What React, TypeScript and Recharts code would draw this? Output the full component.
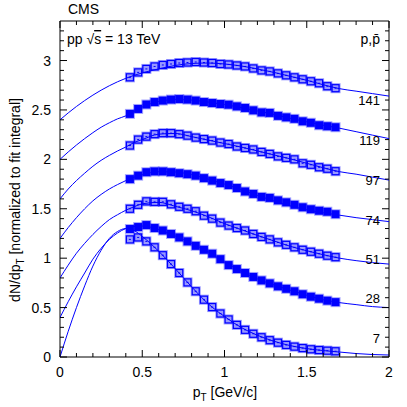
import React from "react";
import { ComposedChart, Line, Scatter, XAxis, YAxis, ReferenceArea } from "recharts";

// measured pT bin centres (GeV/c)
const PT = [
  0.425, 0.475, 0.525, 0.575, 0.625, 0.675, 0.725, 0.775, 0.825, 0.875, 0.925, 0.975, 1.025,
  1.075, 1.125, 1.175, 1.225, 1.275, 1.325, 1.375, 1.425, 1.475, 1.525, 1.575, 1.625, 1.675,
];

// pT points where the fit curves are read
const FIT_PT = [
  0, 0.05, 0.1, 0.15, 0.2, 0.25, 0.3, 0.35, 0.4, 0.45, 0.5, 0.6, 0.7, 0.8, 0.9, 1.0, 1.1, 1.2,
  1.3, 1.4, 1.5, 1.6, 1.7, 1.8, 1.9, 2.0,
];

const MULT = ["7", "28", "51", "74", "97", "119", "141"];

// data points, already shifted per multiplicity class
const DATA_7 = [
  1.19, 1.21, 1.17, 1.11, 1.03, 0.94, 0.85, 0.755, 0.665, 0.58, 0.505, 0.44, 0.38, 0.325, 0.275,
  0.235, 0.2, 0.17, 0.145, 0.122, 0.105, 0.09, 0.078, 0.07, 0.064, 0.058,
];
const DATA_28 = [
  1.295, 1.315, 1.335, 1.305, 1.28, 1.245, 1.21, 1.17, 1.125, 1.085, 1.045, 0.99, 0.93, 0.89,
  0.85, 0.81, 0.775, 0.745, 0.715, 0.69, 0.665, 0.635, 0.61, 0.59, 0.57, 0.555,
];
const DATA_51 = [
  1.5, 1.54, 1.575, 1.57, 1.57, 1.545, 1.52, 1.5, 1.475, 1.43, 1.4, 1.36, 1.33, 1.305, 1.28,
  1.245, 1.215, 1.19, 1.16, 1.135, 1.11, 1.085, 1.065, 1.045, 1.025, 1.01,
];
const DATA_74 = [
  1.8, 1.835, 1.87, 1.878, 1.878, 1.87, 1.86, 1.85, 1.835, 1.81, 1.785, 1.76, 1.74, 1.71, 1.675,
  1.65, 1.62, 1.61, 1.585, 1.565, 1.54, 1.515, 1.495, 1.48, 1.47, 1.445,
];
const DATA_97 = [
  2.14, 2.2, 2.23, 2.255, 2.265, 2.265, 2.255, 2.24, 2.22, 2.205, 2.19, 2.17, 2.155, 2.13, 2.115,
  2.1, 2.075, 2.055, 2.03, 2.015, 2.0, 1.96, 1.945, 1.92, 1.905, 1.88,
];
const DATA_119 = [
  2.46, 2.51, 2.555, 2.58, 2.595, 2.605, 2.61, 2.605, 2.595, 2.58, 2.57, 2.56, 2.553, 2.536, 2.52,
  2.496, 2.475, 2.47, 2.44, 2.425, 2.41, 2.385, 2.37, 2.345, 2.335, 2.325,
];
const DATA_141 = [
  2.83, 2.88, 2.915, 2.94, 2.955, 2.965, 2.975, 2.98, 2.985, 2.98, 2.975, 2.965, 2.96, 2.95, 2.94,
  2.92, 2.9, 2.89, 2.87, 2.85, 2.83, 2.81, 2.79, 2.77, 2.74, 2.72,
];

// fit curves
const FIT_7 = [
  0, 0.26, 0.5, 0.72, 0.92, 1.08, 1.2, 1.27, 1.3, 1.28, 1.22, 1.07, 0.895, 0.71, 0.54, 0.41, 0.3,
  0.22, 0.16, 0.115, 0.085, 0.065, 0.05, 0.035, 0.025, 0.02,
];
const FIT_28 = [
  0.4, 0.56, 0.71, 0.85, 0.99, 1.1, 1.19, 1.255, 1.3, 1.32, 1.325, 1.29, 1.225, 1.15, 1.065, 0.96,
  0.87, 0.79, 0.73, 0.675, 0.625, 0.58, 0.55, 0.53, 0.51, 0.5,
];
const FIT_51 = [
  0.8, 0.93, 1.05, 1.15, 1.24, 1.32, 1.39, 1.44, 1.485, 1.52, 1.55, 1.565, 1.525, 1.48, 1.42,
  1.35, 1.29, 1.23, 1.175, 1.12, 1.075, 1.035, 1.0, 0.975, 0.955, 0.94,
];
const FIT_74 = [
  1.2, 1.31, 1.41, 1.5, 1.58, 1.645, 1.7, 1.745, 1.785, 1.82, 1.845, 1.875, 1.872, 1.845, 1.8,
  1.75, 1.695, 1.635, 1.58, 1.53, 1.49, 1.46, 1.435, 1.41, 1.39, 1.37,
];
const FIT_97 = [
  1.6, 1.7, 1.785, 1.86, 1.93, 1.99, 2.04, 2.085, 2.125, 2.17, 2.2, 2.255, 2.262, 2.23, 2.195,
  2.16, 2.125, 2.085, 2.045, 2.005, 1.96, 1.915, 1.875, 1.85, 1.82, 1.79,
];
const FIT_119 = [
  2.0, 2.075, 2.145, 2.21, 2.27, 2.325, 2.37, 2.41, 2.44, 2.485, 2.53, 2.585, 2.605, 2.6, 2.58,
  2.555, 2.525, 2.49, 2.455, 2.415, 2.38, 2.345, 2.315, 2.28, 2.245, 2.21,
];
const FIT_141 = [
  2.4, 2.47, 2.535, 2.595, 2.65, 2.7, 2.745, 2.785, 2.82, 2.85, 2.875, 2.915, 2.95, 2.97, 2.975,
  2.965, 2.945, 2.915, 2.88, 2.84, 2.8, 2.755, 2.715, 2.69, 2.665, 2.64,
];

// where the multiplicity labels sit
const LABEL_X = 1.945;
const LABEL_Y = [0.142, 0.547, 0.946, 1.336, 1.741, 2.146, 2.55];

const X_MAJOR = [0, 0.5, 1, 1.5, 2];
const Y_MAJOR = [0, 0.5, 1, 1.5, 2, 2.5, 3];
const X_TICKS = Array.from({ length: 21 }, (_, i) => i / 10);
const Y_TICKS = Array.from({ length: 34 }, (_, i) => i / 10);

const W = 407;
const H = 407;
const MARGIN = { top: 21, right: 18, bottom: 0, left: 0 };
const Y_AXIS_W = 60;
const X_AXIS_H = 50;
const PLOT_W = W - MARGIN.left - MARGIN.right - Y_AXIS_W;
const PLOT_H = H - MARGIN.top - MARGIN.bottom - X_AXIS_H;

const BLUE = "#0000ff";
const FONT = "'Liberation Sans', Arial, Helvetica, sans-serif";

const series = [
  { name: "7", data: DATA_7, fit: FIT_7, open: true },
  { name: "28", data: DATA_28, fit: FIT_28, open: false },
  { name: "51", data: DATA_51, fit: FIT_51, open: true },
  { name: "74", data: DATA_74, fit: FIT_74, open: false },
  { name: "97", data: DATA_97, fit: FIT_97, open: true },
  { name: "119", data: DATA_119, fit: FIT_119, open: false },
  { name: "141", data: DATA_141, fit: FIT_141, open: true },
];

const pts = (xs: number[], ys: number[]) => xs.map((x, i) => ({ x, y: ys[i] }));

const labelData = MULT.map((m, i) => ({ x: LABEL_X, y: LABEL_Y[i], label: m }));

function OpenSquare(props: any) {
  const { cx, cy } = props;
  if (cx == null || cy == null) return null;
  return (
    <g>
      <rect x={cx - 5} y={cy - 5} width={10} height={10} fill={BLUE} fillOpacity={0.4} />
      <rect x={cx - 3.5} y={cy - 3.5} width={7} height={7} fill="none" stroke={BLUE} strokeWidth={1.2} />
      <line x1={cx - 1} x2={cx + 1} y1={cy} y2={cy} stroke={BLUE} strokeWidth={1} />
    </g>
  );
}

function FilledSquare(props: any) {
  const { cx, cy } = props;
  if (cx == null || cy == null) return null;
  return (
    <g>
      <rect x={cx - 5} y={cy - 5} width={10} height={10} fill={BLUE} fillOpacity={0.35} />
      <rect x={cx - 4} y={cy - 4} width={8} height={8} fill={BLUE} />
    </g>
  );
}

function MultLabel(props: any) {
  const { cx, cy, payload } = props;
  return (
    <text x={cx} y={cy} textAnchor="end" fontSize={13} fontFamily={FONT} fill="#000">
      {payload.label}
    </text>
  );
}

function XTick(props: any) {
  const { x, y, payload } = props;
  const v = payload.value;
  const major = X_MAJOR.includes(v);
  const len = major ? 7 : 4;
  return (
    <g>
      <line x1={x} y1={y} x2={x} y2={y - len} stroke="#000" />
      <line x1={x} y1={y - PLOT_H} x2={x} y2={y - PLOT_H + len} stroke="#000" />
      {major && (
        <text x={x} y={y + 20} textAnchor="middle" fontSize={14} fontFamily={FONT} fill="#000">
          {v}
        </text>
      )}
    </g>
  );
}

function YTick(props: any) {
  const { x, y, payload } = props;
  const v = payload.value;
  const major = Y_MAJOR.includes(v);
  const len = major ? 7 : 4;
  return (
    <g>
      <line x1={x} y1={y} x2={x + len} y2={y} stroke="#000" />
      <line x1={x + PLOT_W} y1={y} x2={x + PLOT_W - len} y2={y} stroke="#000" />
      {major && (
        <text x={x - 9} y={y + 5} textAnchor="end" fontSize={14} fontFamily={FONT} fill="#000">
          {v}
        </text>
      )}
    </g>
  );
}

export default function App() {
  return (
    <div style={{ position: "absolute", left: 0, top: 0, width: W, height: H, background: "#fff" }}>
      <ComposedChart width={W} height={H} margin={MARGIN}>
        <XAxis
          type="number"
          dataKey="x"
          domain={[0, 2]}
          allowDataOverflow
          ticks={X_TICKS}
          interval={0}
          tickSize={0}
          tickMargin={0}
          tickLine={false}
          axisLine={false}
          tick={<XTick />}
          height={X_AXIS_H}
        />
        <YAxis
          type="number"
          dataKey="y"
          domain={[0, 3.4]}
          allowDataOverflow
          ticks={Y_TICKS}
          interval={0}
          tickSize={0}
          tickMargin={0}
          tickLine={false}
          axisLine={false}
          tick={<YTick />}
          width={Y_AXIS_W}
        />
        <ReferenceArea x1={0} x2={2} y1={0} y2={3.4} fill="none" stroke="#000" strokeWidth={1} ifOverflow="visible" />
        {series.map((s) => (
          <Line
            key={"fit" + s.name}
            data={pts(FIT_PT, s.fit)}
            dataKey="y"
            type="monotone"
            stroke={BLUE}
            strokeWidth={1}
            dot={false}
            activeDot={false}
            isAnimationActive={false}
          />
        ))}
        {series.map((s) => (
          <Scatter
            key={"data" + s.name}
            data={pts(PT, s.data)}
            dataKey="y"
            shape={s.open ? <OpenSquare /> : <FilledSquare />}
            isAnimationActive={false}
          />
        ))}
        <Scatter data={labelData} dataKey="y" shape={<MultLabel />} isAnimationActive={false} />
      </ComposedChart>
      <svg
        width={W}
        height={H}
        style={{ position: "absolute", left: 0, top: 0, pointerEvents: "none" }}
        fontFamily={FONT}
      >
        <text x={68} y={14} fontSize={14} fill="#000">CMS</text>
        <text x={67} y={44} fontSize={14} fill="#000">
          pp √<tspan textDecoration="overline">s</tspan> = 13 TeV
        </text>
        <text x={380} y={44} fontSize={14} fill="#000" textAnchor="end">
          p,p̄
        </text>
        <text x={225} y={397} fontSize={14} fill="#000" textAnchor="middle">
          p<tspan fontSize={10} dy={4}>T</tspan>
          <tspan dy={-4}> [GeV/c]</tspan>
        </text>
        <text transform="translate(20,200) rotate(-90)" fontSize={14} fill="#000" textAnchor="middle">
          dN/dp<tspan fontSize={10} dy={4}>T</tspan>
          <tspan dy={-4}> [normalized to fit integral]</tspan>
        </text>
      </svg>
    </div>
  );
}
